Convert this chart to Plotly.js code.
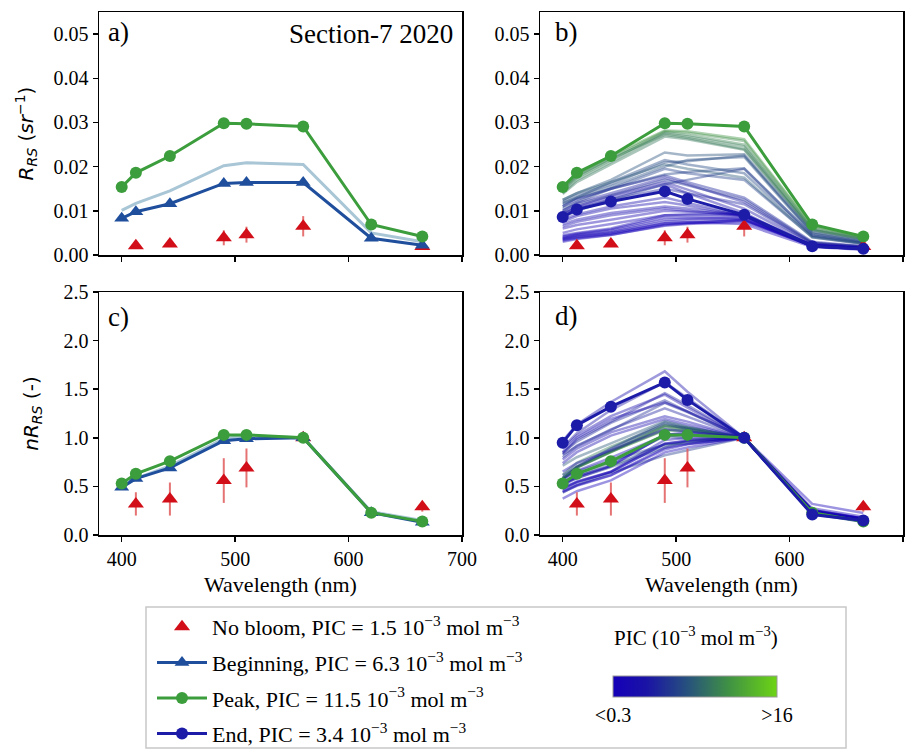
<!DOCTYPE html>
<html><head><meta charset="utf-8">
<script src="https://cdn.plot.ly/plotly-3.0.1.min.js"></script>
<style>html,body{margin:0;padding:0;background:#fff}#chart{width:917px;height:753px}</style>
</head><body><div id="chart"></div>
<script>
// ---------------- DATA ----------------
const wavelengths = [400, 412.5, 442.5, 490, 510, 560, 620, 665];

const noBloomWl     = [412.5, 442.5, 490, 510, 560, 665];
const noBloomRrs    = [0.0021, 0.0025, 0.0039, 0.0046, 0.0065, 0.0019];
const noBloomRrsErr = [0.0005, 0.0005, 0.0017, 0.0018, 0.0023, 0.0004];
const noBloomN      = [0.32, 0.37, 0.56, 0.69, 1.00, 0.29];
const noBloomNErr   = [0.12, 0.17, 0.23, 0.20, 0.00, 0.05];

const beginRrs = [0.0083, 0.0098, 0.0116, 0.0162, 0.0164, 0.0164, 0.0038, 0.0022];
const beginN   = [0.49, 0.58, 0.69, 0.97, 0.99, 1.00, 0.23, 0.13];
const refRrs   = [0.0101, 0.0117, 0.0145, 0.0202, 0.0209, 0.0205, 0.0050, 0.0030];
const refN     = [0.50, 0.58, 0.71, 0.99, 1.02, 1.00, 0.24, 0.15];
const peakRrs  = [0.0154, 0.0186, 0.0224, 0.0298, 0.0297, 0.0291, 0.0069, 0.0042];
const peakN    = [0.53, 0.63, 0.76, 1.03, 1.03, 1.00, 0.23, 0.14];
const endRrs   = [0.0086, 0.0103, 0.0121, 0.0144, 0.0127, 0.0091, 0.0020, 0.0014];
const endN     = [0.95, 1.13, 1.32, 1.57, 1.39, 1.00, 0.21, 0.15];

// individual station spectra (panel b), PIC in 1e-3 mol m-3
const stationPIC = [11, 10.5, 10, 10.2, 9.8, 11.5,
                    7.5, 7, 7.2, 6.5, 6, 6.8, 6.2, 7.8,
                    4.5, 4, 3.5, 3, 5, 4.2, 2.5, 2.2, 2, 1.8,
                    1.2, 1, 0.8, 0.6, 0.5, 0.4, 0.3, 0.5, 1.5, 1.3];
const stationRrs = [
  [0.0150, 0.0180, 0.0220, 0.0280, 0.0277, 0.0258, 0.0064, 0.0040],
  [0.0145, 0.0175, 0.0215, 0.0278, 0.0272, 0.0250, 0.0060, 0.0038],
  [0.0140, 0.0170, 0.0210, 0.0275, 0.0268, 0.0246, 0.0058, 0.0036],
  [0.0148, 0.0178, 0.0218, 0.0272, 0.0265, 0.0240, 0.0057, 0.0036],
  [0.0138, 0.0165, 0.0205, 0.0268, 0.0262, 0.0238, 0.0056, 0.0035],
  [0.0152, 0.0183, 0.0225, 0.0282, 0.0280, 0.0262, 0.0066, 0.0041],
  [0.0125, 0.0140, 0.0170, 0.0232, 0.0225, 0.0228, 0.0052, 0.0032],
  [0.0120, 0.0135, 0.0160, 0.0210, 0.0212, 0.0225, 0.0050, 0.0030],
  [0.0118, 0.0130, 0.0155, 0.0200, 0.0215, 0.0222, 0.0048, 0.0030],
  [0.0115, 0.0128, 0.0150, 0.0182, 0.0188, 0.0196, 0.0045, 0.0028],
  [0.0085, 0.0100, 0.0125, 0.0160, 0.0170, 0.0195, 0.0044, 0.0027],
  [0.0110, 0.0130, 0.0165, 0.0215, 0.0205, 0.0185, 0.0042, 0.0026],
  [0.0105, 0.0120, 0.0150, 0.0195, 0.0185, 0.0170, 0.0040, 0.0025],
  [0.0125, 0.0140, 0.0165, 0.0205, 0.0195, 0.0175, 0.0040, 0.0026],
  [0.0110, 0.0125, 0.0150, 0.0180, 0.0165, 0.0130, 0.0030, 0.0020],
  [0.0100, 0.0118, 0.0140, 0.0175, 0.0160, 0.0120, 0.0027, 0.0019],
  [0.0095, 0.0110, 0.0135, 0.0165, 0.0148, 0.0105, 0.0024, 0.0017],
  [0.0092, 0.0108, 0.0130, 0.0160, 0.0140, 0.0095, 0.0021, 0.0016],
  [0.0100, 0.0115, 0.0135, 0.0170, 0.0158, 0.0125, 0.0028, 0.0019],
  [0.0095, 0.0105, 0.0125, 0.0150, 0.0140, 0.0115, 0.0026, 0.0018],
  [0.0080, 0.0092, 0.0110, 0.0130, 0.0118, 0.0090, 0.0020, 0.0015],
  [0.0075, 0.0088, 0.0105, 0.0120, 0.0112, 0.0088, 0.0019, 0.0014],
  [0.0070, 0.0080, 0.0095, 0.0110, 0.0105, 0.0090, 0.0020, 0.0014],
  [0.0065, 0.0075, 0.0090, 0.0105, 0.0100, 0.0088, 0.0020, 0.0014],
  [0.0045, 0.0050, 0.0060, 0.0090, 0.0092, 0.0092, 0.0022, 0.0015],
  [0.0040, 0.0046, 0.0055, 0.0080, 0.0082, 0.0085, 0.0021, 0.0014],
  [0.0038, 0.0044, 0.0052, 0.0075, 0.0078, 0.0080, 0.0020, 0.0013],
  [0.0035, 0.0040, 0.0048, 0.0070, 0.0073, 0.0078, 0.0020, 0.0013],
  [0.0042, 0.0048, 0.0058, 0.0085, 0.0085, 0.0082, 0.0020, 0.0014],
  [0.0036, 0.0042, 0.0050, 0.0072, 0.0074, 0.0070, 0.0018, 0.0012],
  [0.0030, 0.0036, 0.0045, 0.0068, 0.0072, 0.0080, 0.0022, 0.0015],
  [0.0033, 0.0038, 0.0046, 0.0066, 0.0070, 0.0075, 0.0024, 0.0017],
  [0.0060, 0.0068, 0.0080, 0.0100, 0.0098, 0.0092, 0.0022, 0.0015],
  [0.0050, 0.0058, 0.0070, 0.0090, 0.0090, 0.0088, 0.0022, 0.0015]
];

const picMin = 0.3, picMax = 16;
const picTickVals = [0.3, 16];
const picTickText = ['<0.3', '>16'];

// ---------------- STYLE ----------------
const cscale = [[0, '#1500b8'], [0.2, '#1a12a6'], [0.45, '#26507e'], [0.7, '#3f9045'], [1, '#6cd414']];
function hex2rgb(h){ return [parseInt(h.slice(1,3),16), parseInt(h.slice(3,5),16), parseInt(h.slice(5,7),16)]; }
function picColor(p, a){
  let t = (p - picMin) / (picMax - picMin); t = Math.max(0, Math.min(1, t));
  for (let i = 1; i < cscale.length; i++) {
    if (t <= cscale[i][0]) {
      const f = (t - cscale[i-1][0]) / (cscale[i][0] - cscale[i-1][0]);
      const c0 = hex2rgb(cscale[i-1][1]), c1 = hex2rgb(cscale[i][1]);
      const c = c0.map((v, k) => Math.round(v + f * (c1[k] - v)));
      return `rgba(${c[0]},${c[1]},${c[2]},${a})`;
    }
  }
  return 'rgba(0,0,0,' + a + ')';
}
const RED = '#d20f19', REDERR = 'rgba(225,90,90,0.85)';
const GREEN = '#3c9d3c', BEGIN = '#1f4e9c', ENDC = '#1c1ca8', REF = '#a9c6d6';
const SERIF = '"Liberation Serif", "Times New Roman", Times, serif';
const SANS = '"DejaVu Sans", sans-serif';
const LINE_ALPHA = 0.42;

const traces = [];
function redTraces(xa, ya, yv, err, legend){
  traces.push({x: noBloomWl, y: yv, xaxis: xa, yaxis: ya, mode: 'markers', showlegend: false,
    marker: {size: 13, opacity: 0}, error_y: {type: 'data', array: err, visible: true, color: REDERR, thickness: 2, width: 0}, hoverinfo: 'skip'});
  traces.push({x: noBloomWl, y: yv, xaxis: xa, yaxis: ya, mode: 'markers', showlegend: legend, legendrank: 1, legendgroup: 'g1',
    name: 'No bloom, PIC = 1.5 10<sup>−3</sup> mol m<sup>−3</sup>',
    marker: {symbol: 'triangle-up', size: 14, color: RED}});
}
function lineTrace(xa, ya, yv, color, sym, name, legend, rank){
  const t = {x: wavelengths, y: yv, xaxis: xa, yaxis: ya, mode: sym ? 'lines+markers' : 'lines',
    name: name, showlegend: legend, legendrank: rank, legendgroup: 'g' + rank, line: {color: color, width: 3}};
  if (sym) t.marker = {symbol: sym, size: sym === 'circle' ? 12 : 13, color: color};
  traces.push(t);
}

// Panel a
redTraces('x', 'y', noBloomRrs, noBloomRrsErr, true);
lineTrace('x', 'y', refRrs, REF, null, 'ref', false, 10);
lineTrace('x', 'y', beginRrs, BEGIN, 'triangle-up', 'Beginning, PIC = 6.3 10<sup>−3</sup> mol m<sup>−3</sup>', true, 2);
lineTrace('x', 'y', peakRrs, GREEN, 'circle', 'Peak, PIC = 11.5 10<sup>−3</sup> mol m<sup>−3</sup>', true, 3);

// Panel b
stationRrs.forEach((s, i) => traces.push({x: wavelengths, y: s, xaxis: 'x2', yaxis: 'y2', mode: 'lines', showlegend: false,
  line: {color: picColor(stationPIC[i], LINE_ALPHA), width: 2.5}, hoverinfo: 'skip'}));
redTraces('x2', 'y2', noBloomRrs, noBloomRrsErr, false);
lineTrace('x2', 'y2', peakRrs, GREEN, 'circle', 'peak', false, 11);
lineTrace('x2', 'y2', endRrs, ENDC, 'circle', 'End, PIC = 3.4 10<sup>−3</sup> mol m<sup>−3</sup>', true, 4);

// Panel c
redTraces('x3', 'y3', noBloomN, noBloomNErr, false);
lineTrace('x3', 'y3', refN, REF, null, 'ref', false, 12);
lineTrace('x3', 'y3', beginN, BEGIN, 'triangle-up', 'b', false, 13);
lineTrace('x3', 'y3', peakN, GREEN, 'circle', 'p', false, 14);

// Panel d (normalised at 560 nm)
stationRrs.forEach((s, i) => traces.push({x: wavelengths, y: s.map(v => v / s[5]), xaxis: 'x4', yaxis: 'y4', mode: 'lines', showlegend: false,
  line: {color: picColor(stationPIC[i], LINE_ALPHA), width: 2.5}, hoverinfo: 'skip'}));
redTraces('x4', 'y4', noBloomN, noBloomNErr, false);
lineTrace('x4', 'y4', peakN, GREEN, 'circle', 'p', false, 15);
lineTrace('x4', 'y4', endN, ENDC, 'circle', 'e', false, 16);

// colorbar carrier
traces.push({x: [1000, 1000], y: [-1, -1], xaxis: 'x', yaxis: 'y', mode: 'markers', showlegend: false, hoverinfo: 'skip',
  marker: {color: [picMin, picMax], cmin: picMin, cmax: picMax, colorscale: cscale, opacity: 0, showscale: true,
    colorbar: {orientation: 'h', x: 695/917, xanchor: 'center', y: (753-676)/753, yanchor: 'top',
      lenmode: 'pixels', len: 164, thickness: 21, outlinewidth: 1, outlinecolor: '#999',
      tickvals: picTickVals, ticktext: picTickText, ticks: '', tickfont: {family: SERIF, size: 20, color: '#000'},
      xpad: 0, ypad: 0}}});

// ---------------- LAYOUT ----------------
const W = 917, H = 753;
const xa = [99/W, 462/W], xb = [540/W, 903/W];
const ytop = [(H-255)/H, (H-12)/H], ybot = [(H-535)/H, (H-292)/H];
function ax(domain, anchor, extra){
  return Object.assign({domain: domain, anchor: anchor, showline: true, mirror: true, linecolor: '#000', linewidth: 1.5,
    ticks: 'outside', ticklen: 5, tickwidth: 1.5, tickcolor: '#000', showgrid: false, zeroline: false,
    tickfont: {family: SERIF, size: 20, color: '#000'}, automargin: false}, extra);
}
const xCommon = {range: [380, 700], tickvals: [400, 500, 600, 700]};
const yRrs = {range: [0, 0.055], tickvals: [0, 0.01, 0.02, 0.03, 0.04, 0.05], tickformat: '.2f'};
const yN = {range: [0, 2.5], tickvals: [0, 0.5, 1, 1.5, 2, 2.5], tickformat: '.1f'};
const xTitle = {text: 'Wavelength (nm)', font: {family: SERIF, size: 22, color: '#000'}, standoff: 8};

const layout = {
  width: W, height: H, margin: {l: 0, r: 0, t: 0, b: 0, pad: 0, autoexpand: false}, paper_bgcolor: '#fff', plot_bgcolor: '#fff',
  font: {family: SERIF, color: '#000', size: 20},
  xaxis:  ax(xa, 'y',  Object.assign({showticklabels: false}, xCommon)),
  yaxis:  ax(ytop, 'x', Object.assign({title: {text: '<i>R</i><sub><i>RS</i></sub> (<i>sr</i><sup>−1</sup>)', font: {family: SANS, size: 20, color: '#000'}, standoff: 14}}, yRrs)),
  xaxis2: ax(xb, 'y2', Object.assign({showticklabels: false}, xCommon)),
  yaxis2: ax(ytop, 'x2', yRrs),
  xaxis3: ax(xa, 'y3', Object.assign({title: xTitle}, xCommon)),
  yaxis3: ax(ybot, 'x3', Object.assign({title: {text: '<i>nR</i><sub><i>RS</i></sub> (-)', font: {family: SANS, size: 20, color: '#000'}, standoff: 19}}, yN)),
  xaxis4: ax(xb, 'y4', Object.assign({title: xTitle}, xCommon)),
  yaxis4: ax(ybot, 'x4', yN),
  showlegend: true,
  legend: {x: 152/W, y: (H-606)/H, xanchor: 'left', yanchor: 'top', bgcolor: 'rgba(0,0,0,0)', borderwidth: 0,
    font: {family: SERIF, size: 22, color: '#000'}, itemwidth: 50, traceorder: 'grouped', tracegroupgap: 4},
  shapes: [{type: 'rect', xref: 'paper', yref: 'paper', x0: 146/W, x1: 846/W, y0: (H-748)/H, y1: (H-607)/H,
    line: {color: '#c8c8c8', width: 1.5}, fillcolor: 'rgba(0,0,0,0)', layer: 'below'}],
  annotations: [
    {text: 'a)', x: 106/W, y: (H-32)/H, xref: 'paper', yref: 'paper', xanchor: 'left', yanchor: 'middle', showarrow: false, font: {family: SERIF, size: 27}},
    {text: 'b)', x: 553/W, y: (H-32)/H, xref: 'paper', yref: 'paper', xanchor: 'left', yanchor: 'middle', showarrow: false, font: {family: SERIF, size: 27}},
    {text: 'c)', x: 106/W, y: (H-317)/H, xref: 'paper', yref: 'paper', xanchor: 'left', yanchor: 'middle', showarrow: false, font: {family: SERIF, size: 27}},
    {text: 'd)', x: 553/W, y: (H-316)/H, xref: 'paper', yref: 'paper', xanchor: 'left', yanchor: 'middle', showarrow: false, font: {family: SERIF, size: 27}},
    {text: 'Section-7 2020', x: 455/W, y: (H-34)/H, xref: 'paper', yref: 'paper', xanchor: 'right', yanchor: 'middle', showarrow: false, font: {family: SERIF, size: 27}},
    {text: 'PIC (10<sup>−3</sup> mol m<sup>−3</sup>)', x: 696/W, y: (H-636)/H, xref: 'paper', yref: 'paper', xanchor: 'center', yanchor: 'middle', showarrow: false, font: {family: SERIF, size: 21}}
  ]
};

Plotly.newPlot('chart', traces, layout, {displayModeBar: false, staticPlot: true});
</script></body></html>
